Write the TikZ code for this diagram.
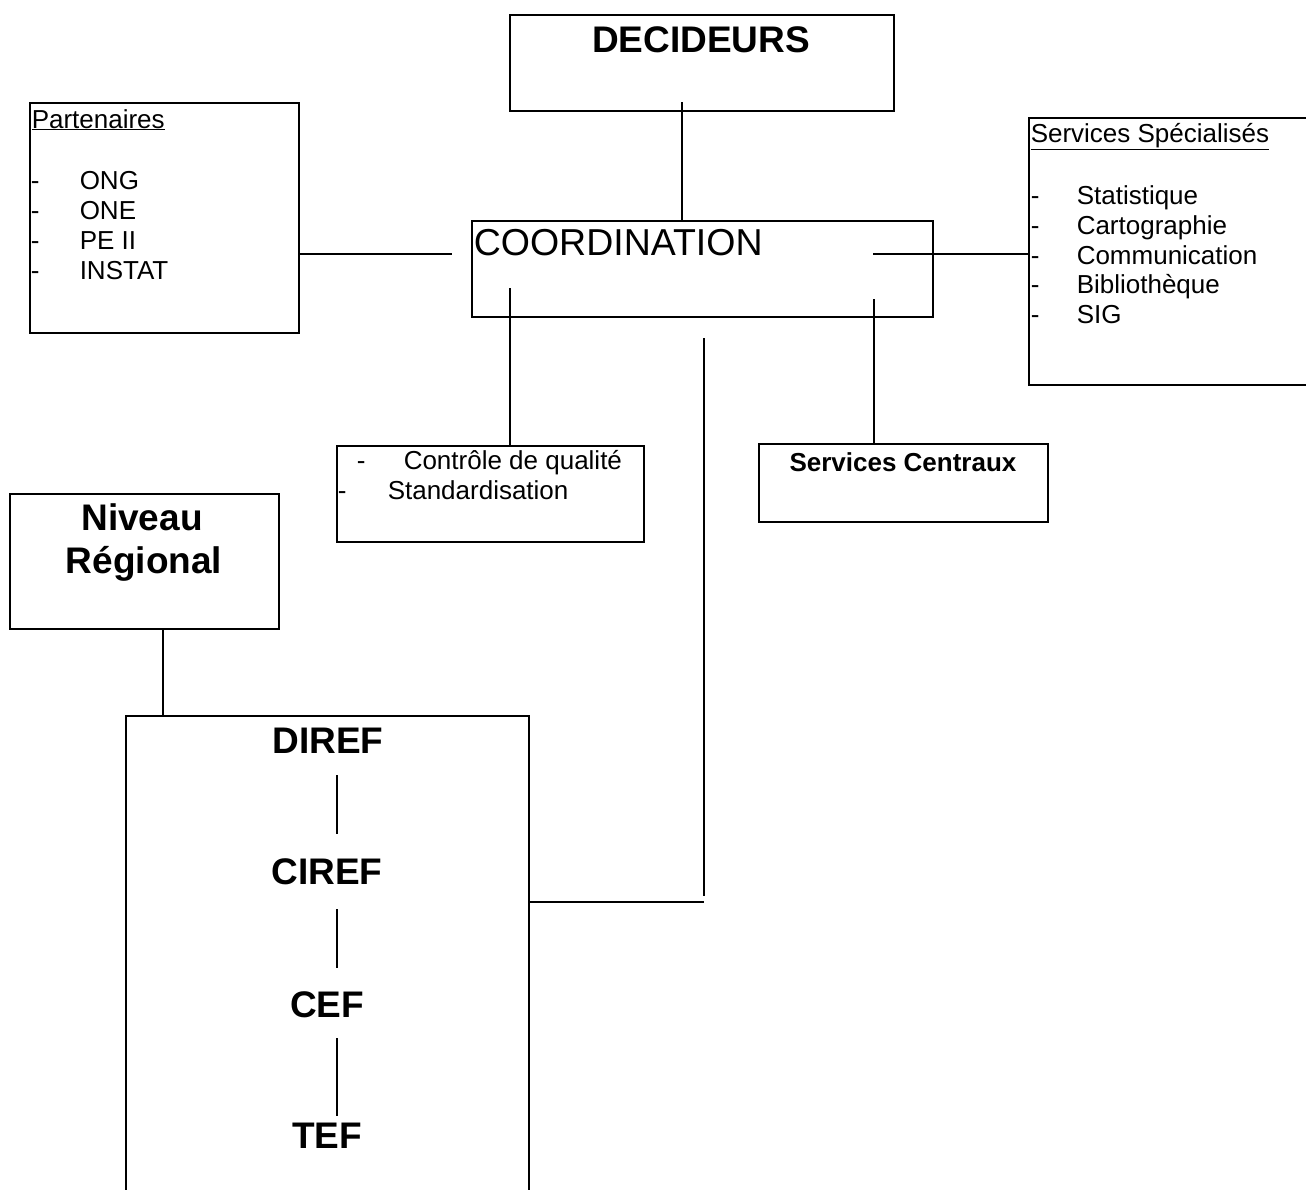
\documentclass[tikz,border=0pt]{standalone}
\usepackage{fontspec}
\setmainfont{Liberation Sans}
\newcommand\fsz[1]{\fontsize{#1}{#1}\selectfont}

\begin{document}
\begin{tikzpicture}[x=1pt,y=-1pt,line width=1.5pt,
  box/.style={draw,inner sep=0pt,anchor=north west},
  txt/.style={inner sep=0pt,anchor=base west,font=\fsz{26}},
  ctr/.style={inner sep=0pt,anchor=base},
  big/.style={ctr,font=\fsz{37}\bfseries},
  thin/.style={line width=1.2pt}]
\useasboundingbox (0,0) rectangle (1306,1189);
\clip (0,0) rectangle (1306,1189);

% ---- boxes ----
\node[box,minimum width=384pt,minimum height=96pt] (dec) at (509,14) {};
\node[box,minimum width=461pt,minimum height=96pt] (coord) at (471,220) {};
\node[box,minimum width=269pt,minimum height=230pt] (part) at (29,102) {};
\node[box,minimum width=300pt,minimum height=267pt] (spec) at (1028,117) {};
\node[box,minimum width=307pt,minimum height=96pt] (qual) at (336,445) {};
\node[box,minimum width=289pt,minimum height=78pt] (cent) at (758,443) {};
\node[box,minimum width=269pt,minimum height=135pt] (reg) at (9,493) {};
\node[box,minimum width=403pt,minimum height=500pt] (dir) at (125,715) {};

% ---- titles ----
\node[big] (dect) at (701,52) {DECIDEURS};
\node[txt,font=\fsz{37.5}] (coordt) at (473,255) {COORDINATION};
\node[ctr,font=\fsz{26}\bfseries] (centt) at (903,471) {Services Centraux};
\node[big] (regt1) at (142,530) {Niveau};
\node[big] (regt2) at (144,573) {Régional};

% ---- Partenaires ----
\node[txt] (partt) at (31,128) {\underline{Partenaires}};
\foreach \name/\y [count=\i] in {ONG/189,ONE/219,PE II/249,INSTAT/279}{
  \node[txt] (pd\i) at (30,\y) {-};
  \node[txt] (pi\i) at (79,\y) {\name};
}

% ---- Services Spécialisés ----
\node[txt] (spect) at (1030,142) {\underline{Services Spécialisés}};
\foreach \name/\y [count=\i] in {Statistique/204,Cartographie/234,Communication/264,Bibliothèque/293,SIG/323}{
  \node[txt] (sd\i) at (1030,\y) {-};
  \node[txt] (si\i) at (1076,\y) {\name};
}

% ---- quality box ----
\node[txt] (qd1) at (356,469) {-};
\node[txt] (qi1) at (403,469) {Contrôle de qualité};
\node[txt] (qd2) at (337,499) {-};
\node[txt] (qi2) at (387,499) {Standardisation};

% ---- regional chain ----
\node[big] (diref) at (328,753) {DIREF};
\node[big] (ciref) at (327,884) {CIREF};
\node[big] (cef)   at (327,1017) {CEF};
\node[big] (tef)   at (327,1148) {TEF};
\coordinate (c1a) at (337,775);  \coordinate (c1b) at (337,834);
\coordinate (c2a) at (337,909);  \coordinate (c2b) at (337,968);
\coordinate (c3a) at (337,1038); \coordinate (c3b) at (337,1116);
\draw[thin] (c1a) -- (c1b);
\draw[thin] (c2a) -- (c2b);
\draw[thin] (c3a) -- (c3b);

% ---- connectors ----
\coordinate (decfoot) at (682,102);
\draw (decfoot) -- (decfoot |- coord.north);
\coordinate (partend) at (452,254);
\draw (part.east |- partend) -- (partend);
\coordinate (coordr) at (873,254);
\draw (coordr) -- (coordr -| spec.west);
\coordinate (qualtop) at (510,288);
\draw (qualtop) -- (qualtop |- qual.north);
\coordinate (centtop) at (874,299);
\draw (centtop) -- (centtop |- cent.north);
\coordinate (regx) at (163,650);
\draw (reg.south -| regx) -- (dir.north -| regx);
\coordinate (rtop) at (704,338);
\coordinate (rbot) at (704,896);
\coordinate (rjoin) at (704,902);
\draw (rtop) -- (rbot);
\draw (dir.east |- rjoin) -- (rjoin);
\end{tikzpicture}
\end{document}
